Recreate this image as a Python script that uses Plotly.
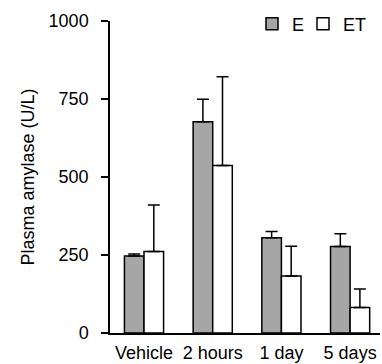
import plotly.graph_objects as go

categories = ["Vehicle", "2 hours", "1 day", "5 days"]
e_values = [247, 677, 305, 277]
e_err = [6, 72, 20, 41]
et_values = [261, 537, 183, 82]
et_err = [149, 284, 95, 59]
y_ticks = [0, 250, 500, 750, 1000]

font = dict(family="Liberation Sans, Arial, sans-serif", size=18, color="black")

fig = go.Figure()
fig.add_trace(go.Bar(
    name="E", x=categories, y=e_values, legend="legend",
    marker=dict(color="#A6A6A6", line=dict(color="black", width=1.5)),
    error_y=dict(type="data", array=e_err, arrayminus=[0]*4, symmetric=False,
                 color="black", thickness=1.5, width=6),
))
fig.add_trace(go.Bar(
    name="ET", x=categories, y=et_values, legend="legend2",
    marker=dict(color="white", line=dict(color="black", width=1.5)),
    error_y=dict(type="data", array=et_err, arrayminus=[0]*4, symmetric=False,
                 color="black", thickness=1.5, width=6),
))

leg_common = dict(orientation="h", xanchor="left", xref="container",
                  y=1 - 24 / 364, yanchor="middle", yref="container",
                  bgcolor="rgba(0,0,0,0)", font=font)

fig.update_layout(
    width=382, height=364,
    margin=dict(l=110, r=2, t=21, b=31, autoexpand=False),
    paper_bgcolor="white", plot_bgcolor="white",
    font=font,
    barmode="group", bargap=0.43, bargroupgap=0,
    showlegend=True,
    legend=dict(x=252 / 382, **leg_common),
    legend2=dict(x=303 / 382, **leg_common),
    xaxis=dict(type="category", range=[-0.495, 3.435], showline=True, linecolor="black",
               linewidth=1.5, ticks="", showgrid=False, zeroline=False, automargin=False,
               ticklabelstandoff=3),
    yaxis=dict(range=[0, 1000], tickvals=y_ticks, ticktext=[str(v) for v in y_ticks],
               showline=True, linecolor="black", linewidth=1.5, ticks="outside",
               ticklen=7, tickwidth=1.5, tickcolor="black", showgrid=False, zeroline=False,
               ticklabelstandoff=9, automargin=False,
               title=dict(text="Plasma amylase (U/L)", font=font, standoff=9)),
)
fig.write_html("out.html", config={"displayModeBar": False},
               post_script="document.body.style.margin='0';document.body.style.padding='0';")
